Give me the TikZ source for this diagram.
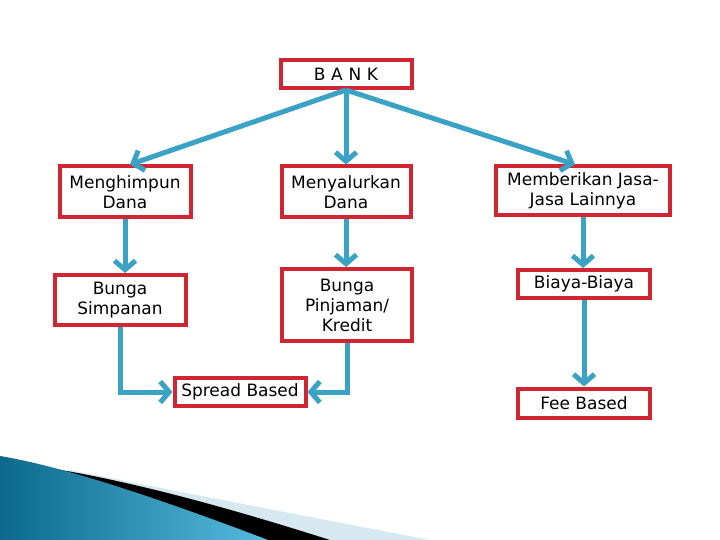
\documentclass[tikz,border=0pt]{standalone}
\usepackage{fontspec}
\setmainfont{DejaVu Sans}
\usetikzlibrary{arrows.meta,positioning}
\definecolor{boxred}{RGB}{208,38,50}
\definecolor{arrowblue}{RGB}{58,162,196}
\definecolor{swooshlight}{RGB}{214,232,240}
\definecolor{swooshdark}{RGB}{12,105,140}
\definecolor{swooshmid}{RGB}{85,188,222}
\tikzset{
  bx/.style={draw=boxred, line width=4pt, fill=white, align=center, inner sep=1pt,
    font=\fontsize{17}{20}\selectfont},
  conn/.style={draw=arrowblue, line width=5pt, -{Straight Barb[length=9pt,width=21pt]}},
}
\begin{document}
\begin{tikzpicture}[x=1pt,y=-1pt]
\useasboundingbox (0,0) rectangle (720,540);
% swoosh decoration
\fill[swooshlight] (70,470) .. controls (180,492) and (300,515) .. (430,540) -- (0,540) -- cycle;
\fill[black] (30,465) .. controls (120,478) and (220,505) .. (330,540) -- (0,540) -- cycle;
\shade[left color=swooshdark, right color=swooshmid] (0,456) .. controls (60,466) and (150,495) .. (268,540) -- (0,540) -- cycle;
% nodes
\node[bx, minimum width=131pt, minimum height=28pt] (bank) at (346,74) {B\,\,A\,\,N\,\,K};
\node[bx, minimum width=131pt, minimum height=51pt] (mh) at (125,192) {Menghimpun\\Dana};
\node[bx, minimum width=129pt, minimum height=51pt] (ms) at (346,192) {Menyalurkan\\Dana};
\node[bx, minimum width=174pt, minimum height=49pt] (mb) at (583,191) {Memberikan Jasa-\\Jasa Lainnya};
\node[bx, minimum width=131pt, minimum height=50pt] (bs) at (120,300) {Bunga\\Simpanan};
\node[bx, minimum width=130pt, minimum height=72pt] (bp) at (347,305) {Bunga\\Pinjaman/\\Kredit};
\node[bx, minimum width=132pt, minimum height=28pt] (bb) at (584,284) {Biaya-Biaya};
\node[bx, minimum width=131pt, minimum height=28pt] (sb) at (240,392) {Spread Based};
\node[bx, minimum width=132pt, minimum height=29pt] (fb) at (584,403) {Fee Based};
% connectors
\draw[conn] (bank.south) -- ([xshift=5pt]mh.north);
\draw[conn] (bank.south) -- (ms.north);
\draw[conn] (bank.south) -- ([xshift=-8pt]mb.north);
\draw[conn] (mh.south) -- (mh.south |- bs.north);
\draw[conn] (ms.south) -- (ms.south |- bp.north);
\draw[conn] (mb.south) -- (mb.south |- bb.north);
\draw[conn] (bb.south) -- (fb.north);
\draw[conn] (bs.south) |- (sb.west);
\draw[conn] (bp.south) |- (sb.east);
\end{tikzpicture}
\end{document}
